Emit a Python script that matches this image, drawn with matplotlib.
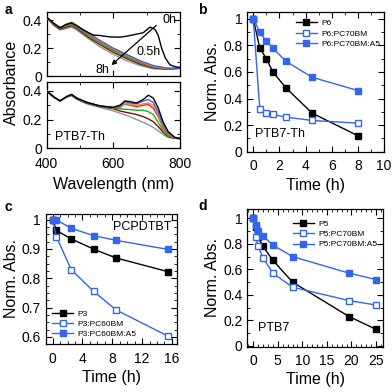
import matplotlib
matplotlib.use("Agg")
import matplotlib.pyplot as plt
from matplotlib.ticker import MultipleLocator, FuncFormatter

plt.rcParams['font.family'] = ['Liberation Sans', 'DejaVu Sans']
plt.rcParams['font.size'] = 10

BLUE = '#3366ee'

# ---------------- Panel a data ----------------
spec_colors = ['black', BLUE, '#ff8c1a', '#ee2222', '#22aa22', '#7a1010', '#8a9a9a']
spec_times = ['0h', '0.5h', '1h', '1.5h', '2.5h', '4.5h', '8h']

wl_top_black = [400, 420, 440, 460, 475, 490, 510, 540, 560, 590, 620, 640, 670, 690, 710, 725, 735, 745, 756, 770, 790, 800]
abs_top_black = [0.42, 0.38, 0.345, 0.37, 0.38, 0.36, 0.33, 0.293, 0.29, 0.28, 0.278, 0.285, 0.30, 0.31, 0.35, 0.335, 0.29, 0.20, 0.13, 0.08, 0.064, 0.062]

wl_top = [400, 420, 440, 460, 475, 490, 510, 530, 560, 600, 640, 680, 720, 760, 800]
abs_top_05 = [0.42, 0.38, 0.345, 0.37, 0.38, 0.36, 0.33, 0.30, 0.255, 0.20, 0.155, 0.11, 0.075, 0.057, 0.055]
abs_top_1 = [0.42, 0.38, 0.345, 0.37, 0.385, 0.365, 0.33, 0.295, 0.25, 0.195, 0.15, 0.105, 0.07, 0.055, 0.055]
abs_top_15 = [0.42, 0.38, 0.345, 0.37, 0.385, 0.36, 0.325, 0.29, 0.245, 0.19, 0.145, 0.10, 0.068, 0.054, 0.055]
abs_top_25 = [0.42, 0.375, 0.34, 0.36, 0.37, 0.35, 0.315, 0.28, 0.235, 0.18, 0.135, 0.093, 0.063, 0.052, 0.055]
abs_top_45 = [0.42, 0.37, 0.335, 0.35, 0.36, 0.34, 0.305, 0.27, 0.225, 0.17, 0.125, 0.085, 0.058, 0.05, 0.055]
abs_top_8 = [0.415, 0.365, 0.33, 0.34, 0.35, 0.33, 0.295, 0.26, 0.21, 0.155, 0.11, 0.075, 0.052, 0.048, 0.055]

wl_bot = [400, 420, 440, 460, 475, 490, 520, 560, 600, 620, 635, 650, 670, 690, 705, 720, 735, 750, 765, 785, 800]
abs_bot_0 = [0.40, 0.36, 0.33, 0.36, 0.375, 0.35, 0.32, 0.295, 0.285, 0.30, 0.33, 0.325, 0.315, 0.34, 0.37, 0.35, 0.28, 0.18, 0.115, 0.075, 0.068]
abs_bot_05 = [0.40, 0.36, 0.33, 0.36, 0.375, 0.35, 0.32, 0.295, 0.285, 0.295, 0.325, 0.315, 0.31, 0.33, 0.34, 0.32, 0.25, 0.16, 0.105, 0.075, 0.068]
abs_bot_1 = [0.40, 0.36, 0.33, 0.36, 0.375, 0.35, 0.32, 0.295, 0.283, 0.29, 0.315, 0.305, 0.30, 0.31, 0.315, 0.30, 0.23, 0.15, 0.10, 0.073, 0.068]
abs_bot_15 = [0.40, 0.36, 0.33, 0.36, 0.375, 0.35, 0.32, 0.295, 0.282, 0.285, 0.31, 0.30, 0.29, 0.30, 0.305, 0.28, 0.22, 0.14, 0.095, 0.072, 0.068]
abs_bot_25 = [0.40, 0.36, 0.33, 0.36, 0.375, 0.35, 0.32, 0.293, 0.28, 0.275, 0.272, 0.27, 0.265, 0.265, 0.255, 0.235, 0.18, 0.12, 0.085, 0.07, 0.067]
abs_bot_45 = [0.40, 0.36, 0.33, 0.36, 0.372, 0.345, 0.315, 0.29, 0.275, 0.26, 0.252, 0.245, 0.235, 0.22, 0.205, 0.185, 0.15, 0.11, 0.08, 0.069, 0.066]
abs_bot_8 = [0.40, 0.36, 0.33, 0.355, 0.365, 0.34, 0.31, 0.285, 0.26, 0.245, 0.232, 0.22, 0.20, 0.18, 0.165, 0.145, 0.12, 0.095, 0.075, 0.068, 0.065]

# ---------------- Panel b data ----------------
t_b = [0, 0.5, 1, 1.5, 2.5, 4.5, 8]
b_P6 = [1.0, 0.78, 0.70, 0.60, 0.48, 0.29, 0.12]
b_P6_PC70BM = [1.0, 0.325, 0.29, 0.28, 0.26, 0.235, 0.215]
b_P6_PC70BM_A5 = [1.0, 0.90, 0.83, 0.78, 0.68, 0.56, 0.46]
labels_b = ['P6', 'P6:PC70BM', 'P6:PC70BM:A5']

# ---------------- Panel c data ----------------
t_c = [0, 0.5, 2.5, 5.5, 8.5, 15.5]
c_P3 = [1.0, 0.963, 0.934, 0.899, 0.869, 0.822]
c_P3_PC60BM = [1.0, 0.942, 0.829, 0.755, 0.692, 0.602]
c_P3_PC60BM_A5 = [1.0, 0.999, 0.970, 0.945, 0.929, 0.898]
labels_c = ['P3', 'P3:PC60BM', 'P3:PC60BM:A5']

# ---------------- Panel d data ----------------
t_d = [0, 0.5, 1, 2, 4, 8, 19.5, 25]
d_P5 = [1.0, 0.93, 0.85, 0.78, 0.67, 0.50, 0.23, 0.13]
d_P5_PC70BM = [1.0, 0.85, 0.78, 0.69, 0.57, 0.46, 0.355, 0.32]
d_P5_PC70BM_A5 = [1.0, 0.95, 0.90, 0.86, 0.79, 0.70, 0.57, 0.52]
labels_d = ['P5', 'P5:PC70BM', 'P5:PC70BM:A5']

fmt = FuncFormatter(lambda v, p: f'{v:g}')

def style_ax(ax, xpad=5.5):
    ax.tick_params(which='both', direction='in', top=True, right=True, labelsize=10)
    ax.tick_params(which='major', length=4, width=0.8)
    ax.tick_params(which='minor', length=2, width=0.6)
    ax.tick_params(axis='x', which='major', pad=xpad)
    for s in ax.spines.values():
        s.set_linewidth(0.9)

fig = plt.figure(figsize=(3.92, 3.92), dpi=100)

# Panel a
ax_at = fig.add_axes([0.119, 0.806, 0.340, 0.164])
ax_ab = fig.add_axes([0.119, 0.622, 0.340, 0.168])
top_series = [(wl_top_black, abs_top_black), (wl_top, abs_top_05), (wl_top, abs_top_1), (wl_top, abs_top_15),
              (wl_top, abs_top_25), (wl_top, abs_top_45), (wl_top, abs_top_8)]
bot_series = [abs_bot_0, abs_bot_05, abs_bot_1, abs_bot_15, abs_bot_25, abs_bot_45, abs_bot_8]
for i in range(len(spec_colors) - 1, -1, -1):
    x, y = top_series[i]
    ax_at.plot(x, y, color=spec_colors[i], lw=1.0, zorder=3 + (i == 0))
    ax_ab.plot(wl_bot, bot_series[i], color=spec_colors[i], lw=1.0, zorder=3 + (i == 0))
for ax in (ax_at, ax_ab):
    ax.set_xlim(400, 800)
    ax.set_ylim(0, 0.46)
    ax.xaxis.set_major_locator(MultipleLocator(200))
    ax.xaxis.set_minor_locator(MultipleLocator(100))
    ax.yaxis.set_major_locator(MultipleLocator(0.2))
    ax.yaxis.set_minor_locator(MultipleLocator(0.1))
    ax.yaxis.set_major_formatter(fmt)
    style_ax(ax, xpad=6)
ax_at.tick_params(labelbottom=False)
ax_ab.set_xlabel('Wavelength (nm)', fontsize=11.5, labelpad=5)
fig.text(0.03, 0.79, 'Absorbance', rotation=90, ha='center', va='center', fontsize=11.5)
ax_at.annotate('', xy=(588, 0.065), xytext=(735, 0.375),
               arrowprops=dict(arrowstyle='-|>', color='black', lw=0.9, mutation_scale=7), zorder=6)
ax_at.text(748, 0.40, spec_times[0], fontsize=9, ha='left', va='center', zorder=7)
ax_at.text(670, 0.17, spec_times[1], fontsize=9, ha='left', va='center', zorder=7)
ax_at.text(588, 0.045, spec_times[-1], fontsize=9, ha='right', va='center', zorder=7)
ax_ab.text(0.065, 0.17, 'PTB7-Th', transform=ax_ab.transAxes, fontsize=9, ha='left', va='center')

def kinetic(ax, t, series, labels):
    kw = dict(lw=1.0, marker='s', markersize=4)
    ax.plot(t, series[0], color='black', mfc='black', mec='black', label=labels[0], **kw)
    ax.plot(t, series[1], color=BLUE, mfc='white', mec=BLUE, mew=1.0, label=labels[1], **kw)
    ax.plot(t, series[2], color=BLUE, mfc=BLUE, mec=BLUE, label=labels[2], **kw)
    ax.yaxis.set_major_formatter(fmt)
    style_ax(ax)

# Panel b
ax_b = fig.add_axes([0.631, 0.613, 0.349, 0.356])
kinetic(ax_b, t_b, [b_P6, b_P6_PC70BM, b_P6_PC70BM_A5], labels_b)
ax_b.set_xlim(-0.45, 10)
ax_b.set_ylim(0, 1.05)
ax_b.xaxis.set_major_locator(MultipleLocator(2))
ax_b.xaxis.set_minor_locator(MultipleLocator(1))
ax_b.yaxis.set_major_locator(MultipleLocator(0.2))
ax_b.yaxis.set_minor_locator(MultipleLocator(0.1))
ax_b.set_xlabel('Time (h)', fontsize=11.5, labelpad=3)
ax_b.set_ylabel('Norm. Abs.', fontsize=11.5, labelpad=2)
ax_b.text(0.056, 0.13, 'PTB7-Th', transform=ax_b.transAxes, fontsize=9, ha='left', va='center')
ax_b.legend(loc='upper left', bbox_to_anchor=(0.31, 0.99), fontsize=6, frameon=False,
            handlelength=2.6, labelspacing=0.3, handletextpad=0.5, borderaxespad=0.3)

# Panel c
ax_c = fig.add_axes([0.117, 0.122, 0.335, 0.333])
kinetic(ax_c, t_c, [c_P3, c_P3_PC60BM, c_P3_PC60BM_A5], labels_c)
ax_c.set_xlim(-0.9, 16.7)
ax_c.set_ylim(0.575, 1.02)
ax_c.xaxis.set_major_locator(MultipleLocator(4))
ax_c.xaxis.set_minor_locator(MultipleLocator(1))
ax_c.yaxis.set_major_locator(MultipleLocator(0.1))
ax_c.yaxis.set_minor_locator(MultipleLocator(0.025))
ax_c.set_xlabel('Time (h)', fontsize=11.5, labelpad=3)
ax_c.set_ylabel('Norm. Abs.', fontsize=11.5, labelpad=2)
ax_c.text(0.957, 0.90, 'PCPDTBT', transform=ax_c.transAxes, fontsize=9, ha='right', va='center')
ax_c.legend(loc='lower left', bbox_to_anchor=(0.0, 0.0), fontsize=6, frameon=False,
            handlelength=2.6, labelspacing=0.3, handletextpad=0.5, borderaxespad=0.3)

# Panel d
ax_d = fig.add_axes([0.631, 0.116, 0.347, 0.350])
kinetic(ax_d, t_d, [d_P5, d_P5_PC70BM, d_P5_PC70BM_A5], labels_d)
ax_d.set_xlim(-1.2, 26.5)
ax_d.set_ylim(-0.005, 1.07)
ax_d.xaxis.set_major_locator(MultipleLocator(5))
ax_d.xaxis.set_minor_locator(MultipleLocator(1))
ax_d.yaxis.set_major_locator(MultipleLocator(0.2))
ax_d.yaxis.set_minor_locator(MultipleLocator(0.1))
ax_d.set_xlabel('Time (h)', fontsize=11.5, labelpad=3)
ax_d.set_ylabel('Norm. Abs.', fontsize=11.5, labelpad=2)
ax_d.text(0.08, 0.134, 'PTB7', transform=ax_d.transAxes, fontsize=9, ha='left', va='center')
ax_d.legend(loc='upper left', bbox_to_anchor=(0.29, 0.965), fontsize=6, frameon=False,
            handlelength=2.6, labelspacing=0.3, handletextpad=0.5, borderaxespad=0.3)

# Panel letters
for lab, x, y in [('a', 0.012, 0.975), ('b', 0.505, 0.975), ('c', 0.012, 0.472), ('d', 0.505, 0.475)]:
    fig.text(x, y, lab, fontsize=10, fontweight='bold', ha='left', va='center')

fig.savefig('out.png', dpi=100)
